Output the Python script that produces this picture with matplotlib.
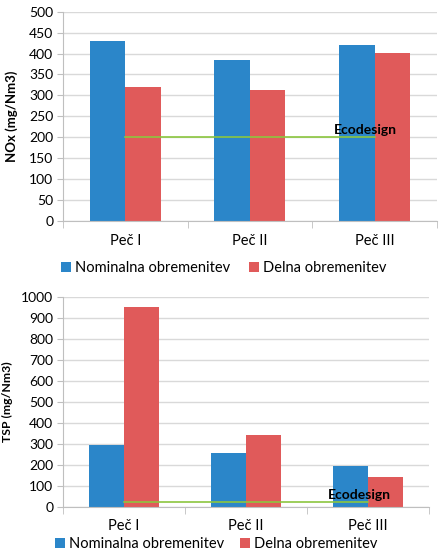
import matplotlib.pyplot as plt
import numpy as np

plt.rcParams["font.family"] = ["Lato", "DejaVu Sans"]

categories = ["Peč I", "Peč II", "Peč III"]
series_names = ["Nominalna obremenitev", "Delna obremenitev"]

nox_nominal = [430, 385, 420]
nox_partial = [320, 313, 401]
nox_limit = 200

tsp_nominal = [295, 254, 194]
tsp_partial = [950, 340, 140]
tsp_limit = 20

BLUE = "#2B86C9"
RED = "#E05A5A"
GREEN = "#8CC63F"
GRID = "#D9D9D9"
AXIS = "#BFBFBF"


def _plot_panel(ax, nominal, partial, limit, ymax, ystep, ylabel, label_x, label_size):
    x = np.arange(len(categories))
    w = 0.285
    ax.bar(x - w / 2, nominal, w, color=BLUE, label=series_names[0], zorder=2)
    ax.bar(x + w / 2, partial, w, color=RED, label=series_names[1], zorder=2)
    ax.plot(x, [limit] * len(x), color=GREEN, lw=1.2, zorder=3)
    ax.annotate("Ecodesign", (x[-1] - 0.07, limit), xytext=(0, 1),
                textcoords="offset points", ha="center", va="bottom",
                fontsize=10, fontweight="bold", color="black", zorder=4)

    ax.set_xlim(-0.5, len(x) - 0.5)
    ax.set_ylim(0, ymax)
    ax.set_yticks(np.arange(0, ymax + 1, ystep))
    ax.yaxis.grid(True, color=GRID, lw=1, zorder=0)
    ax.set_axisbelow(True)

    # category labels between boundary ticks
    ax.set_xticks(x)
    ax.set_xticklabels(categories, fontsize=10.5)
    ax.set_xticks(np.arange(-0.5, len(x), 1), minor=True)
    ax.tick_params(axis="x", which="major", length=0, pad=9)
    ax.tick_params(axis="x", which="minor", length=5, color=AXIS)
    ax.tick_params(axis="y", length=4, color=AXIS, labelsize=10, pad=3)

    for side in ("top", "right"):
        ax.spines[side].set_visible(False)
    for side in ("left", "bottom"):
        ax.spines[side].set_color(AXIS)

    ax.set_ylabel(ylabel, fontsize=label_size, fontweight="bold")
    ax.yaxis.set_label_coords(label_x, 0.5)


def _legend(fig, ax, x, y, spacing):
    handles, labels = ax.get_legend_handles_labels()
    fig.legend(handles, labels, loc="center", bbox_to_anchor=(x, y), ncol=2,
               frameon=False, fontsize=10.5, handlelength=0.65, handleheight=0.65,
               handletextpad=0.3, columnspacing=spacing, borderpad=0,
               borderaxespad=0)


fig = plt.figure(figsize=(4.4, 5.54), dpi=100)

ax1 = fig.add_axes([0.143, 0.601, 0.850, 0.378])
_plot_panel(ax1, nox_nominal, nox_partial, nox_limit, 500, 50,
            "NOx (mg/Nm3)", -0.12, 9.5)
_legend(fig, ax1, 0.509, 0.516, 1.3)

ax2 = fig.add_axes([0.143, 0.0854, 0.832, 0.379])
_plot_panel(ax2, tsp_nominal, tsp_partial, tsp_limit, 1000, 100,
            "TSP (mg/Nm3)", -0.137, 8.8)
_legend(fig, ax2, 0.492, 0.018, 1.1)

fig.savefig("out.png", dpi=100)
